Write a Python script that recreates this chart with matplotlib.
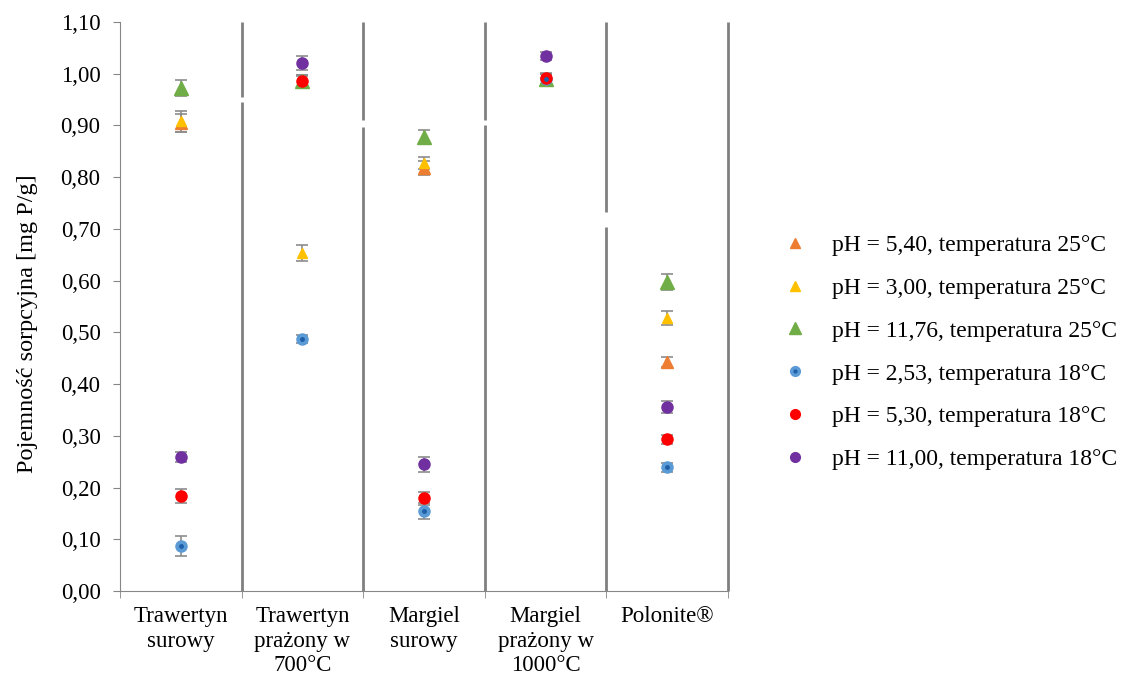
import matplotlib
matplotlib.use("Agg")
from matplotlib import pyplot as plt
from matplotlib.lines import Line2D
import numpy as np

plt.rcParams["font.family"] = ["Liberation Serif", "DejaVu Serif"]

categories = ["Trawertyn\nsurowy", "Trawertyn\nprażony w\n700°C", "Margiel\nsurowy",
              "Margiel\nprażony w\n1000°C", "Polonite®"]

labels = ["pH = 5,40, temperatura 25°C", "pH = 3,00, temperatura 25°C",
          "pH = 11,76, temperatura 25°C", "pH = 2,53, temperatura 18°C",
          "pH = 5,30, temperatura 18°C", "pH = 11,00, temperatura 18°C"]

ph540_25 = [0.905, 0.985, 0.818, 0.990, 0.443]
ph540_25_err = [0.018, 0.010, 0.014, 0.010, 0.010]
ph300_25 = [0.908, 0.653, 0.827, 0.990, 0.528]
ph300_25_err = [0.020, 0.015, 0.012, 0.010, 0.013]
ph1176_25 = [0.972, 0.985, 0.878, 0.990, 0.597]
ph1176_25_err = [0.015, 0.012, 0.014, 0.010, 0.015]
ph253_18 = [0.087, 0.487, 0.155, 0.990, 0.239]
ph253_18_err = [0.020, 0.008, 0.015, 0.010, 0.008]
ph530_18 = [0.184, 0.986, 0.179, 0.991, 0.293]
ph530_18_err = [0.014, 0.012, 0.013, 0.010, 0.008]
ph1100_18 = [0.259, 1.021, 0.245, 1.034, 0.356]
ph1100_18_err = [0.010, 0.014, 0.015, 0.008, 0.012]

yticks = [0.0, 0.1, 0.2, 0.3, 0.4, 0.5, 0.6, 0.7, 0.8, 0.9, 1.0, 1.1]

# values, errors, marker, colour, size on plot, size in legend
series = [
    (ph540_25, ph540_25_err, "^", "#ED7D31", 8.5, 7.0),
    (ph300_25, ph300_25_err, "^", "#FFC000", 7.5, 6.5),
    (ph1176_25, ph1176_25_err, "^", "#70AD47", 9.5, 9.0),
    (ph253_18, ph253_18_err, "o", "#5B9BD5", 8.0, 7.0),
    (ph530_18, ph530_18_err, "o", "#FF0000", 8.0, 7.0),
    (ph1100_18, ph1100_18_err, "o", "#7030A0", 8.0, 7.0),
]

fig = plt.figure(figsize=(11.25, 6.75), dpi=100)
ax = fig.add_axes([0.1067, 0.1244, 0.5404, 0.843])

x = np.arange(1, len(categories) + 1)
gray = "#8C8C8C"

# separators between the materials (with small breaks)
sep_x = [1.5, 1.5, 2.5, 2.5, 3.5, 3.5, 4.5, 4.5]
sep_lo = [0.0, 0.955, 0.0, 0.910, 0.0, 0.910, 0.0, 0.733]
sep_hi = [0.945, 1.1, 0.897, 1.1, 0.900, 1.1, 0.704, 1.1]
ax.vlines(sep_x, sep_lo, sep_hi, color="#808080", lw=2, zorder=1)
ax.vlines([5.5], 0, 1.1, color="#808080", lw=2, zorder=1, clip_on=False)

handles = []
for vals, err, m, c, ms, lms in series:
    ax.errorbar(x, vals, yerr=err, fmt="none", ecolor=gray, elinewidth=1.2,
                capsize=4.3, capthick=1.2, zorder=2)
    ax.plot(x, vals, ls="none", marker=m, color=c, ms=ms, mec=c, zorder=3)
    handles.append(Line2D([], [], ls="none", marker=m, color=c, ms=lms, mec=c))

# dark centre of the blue markers
ax.plot(x, ph253_18, ls="none", marker="o", color="#1F5FA8", ms=2.5, zorder=4)
handles[3] = (handles[3], Line2D([], [], ls="none", marker="o", color="#1F5FA8", ms=2))

ax.set_xlim(0.5, 5.5)
ax.set_ylim(0, 1.1)
ax.set_yticks(yticks)
ax.set_yticklabels([f"{v:.2f}".replace(".", ",") for v in yticks], fontsize=16.5)
ax.set_xticks(x)
ax.set_xticklabels(categories, fontsize=16.5, va="top", linespacing=1.2)
ax.set_xticks(np.arange(0.5, 5.6, 1), minor=True)
ax.tick_params(axis="x", which="major", length=0, pad=11)
ax.tick_params(axis="x", which="minor", length=5, color="#868686")
ax.tick_params(axis="y", length=5, color="#868686", pad=9)

for s in ["top", "right"]:
    ax.spines[s].set_visible(False)
for s in ["left", "bottom"]:
    ax.spines[s].set_color("#868686")

ax.set_ylabel("Pojemność sorpcyjna [mg P/g]", fontsize=17.5)
ax.yaxis.set_label_coords(-0.135, 0.47)

fig.legend(handles, labels, loc="center left", bbox_to_anchor=(0.677, 0.478),
           frameon=False, fontsize=17, handlelength=1.0, handletextpad=1.07,
           labelspacing=0.9)

fig.savefig("out.png", dpi=100)
